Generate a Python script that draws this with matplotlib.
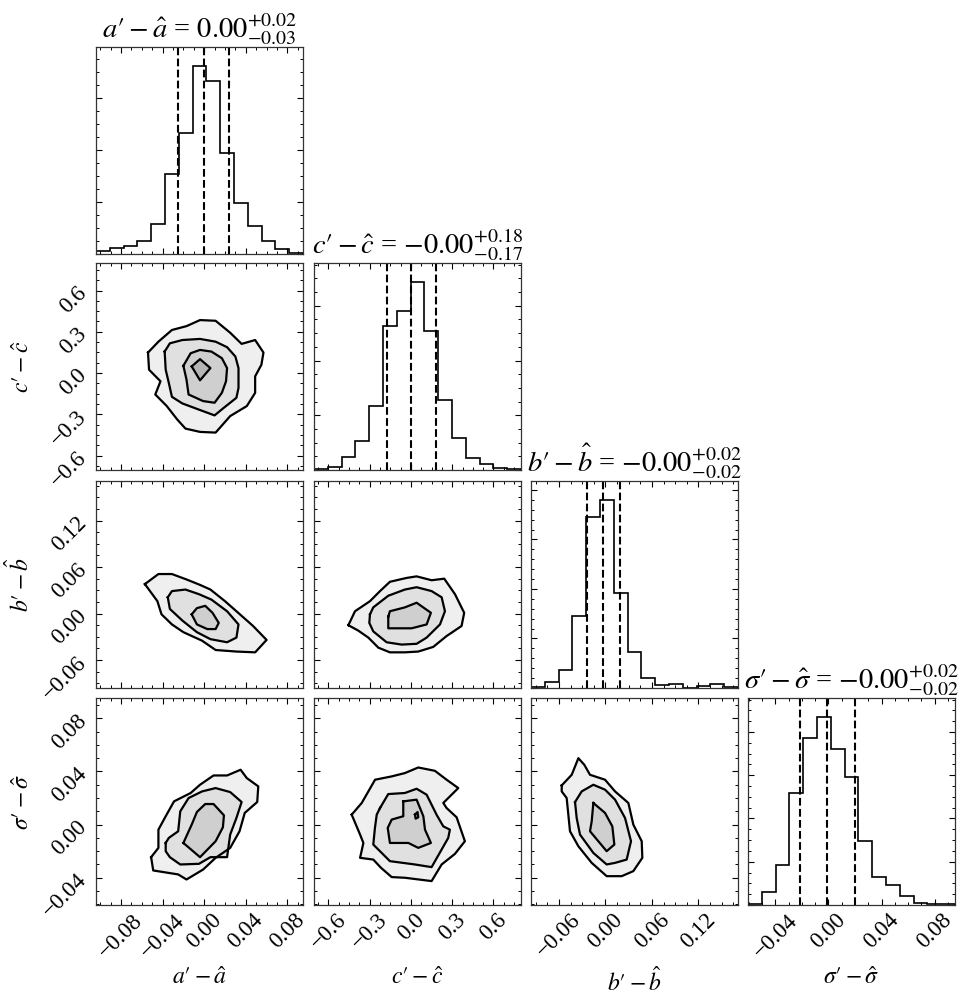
import numpy as np
import matplotlib
matplotlib.use("Agg")
import matplotlib.pyplot as plt
from matplotlib.ticker import MultipleLocator, AutoMinorLocator, MaxNLocator

plt.rcParams["font.family"] = ["Liberation Serif", "DejaVu Serif"]
plt.rcParams["mathtext.fontset"] = "stix"

# parameter names, titles and axis ranges
labels = [r"$a′ - \hat{a}$", r"$c′ - \hat{c}$", r"$b′ - \hat{b}$", r"$\sigma′ - \hat{\sigma}$"]
titles = [r"$a′ - \hat{a}$ = ${0.00}_{-0.03}^{+0.02}$",
          r"$c′ - \hat{c}$ = ${-0.00}_{-0.17}^{+0.18}$",
          r"$b′ - \hat{b}$ = ${-0.00}_{-0.02}^{+0.02}$",
          r"$\sigma′ - \hat{\sigma}$ = ${-0.00}_{-0.02}^{+0.02}$"]
ranges = [(-0.104, 0.095), (-0.705, 0.80), (-0.096, 0.171), (-0.0605, 0.0953)]
tick_steps = [0.04, 0.3, 0.06, 0.04]

# 1D histograms (15 bins over each range)
hist_a = [5, 9, 13, 20, 47, 123, 187, 290, 267, 156, 79, 43, 20, 7, 2]
hist_c = [2, 5, 19, 42, 94, 211, 233, 275, 203, 102, 47, 17, 9, 3, 1]
hist_b = [2, 12, 37, 146, 345, 380, 192, 73, 21, 7, 9, 1, 5, 9, 2]
hist_s = [2, 18, 56, 155, 231, 261, 217, 178, 89, 39, 28, 12, 3, 1, 2]
hists = [hist_a, hist_c, hist_b, hist_s]

# 16/50/84 % quantiles
quant_a = [-0.0255, 0.0003, 0.0235]
quant_c = [-0.172, 0.0, 0.179]
quant_b = [-0.024, -0.003, 0.019]
quant_s = [-0.021, -0.001, 0.020]
quants = [quant_a, quant_c, quant_b, quant_s]

# 2D contour lines (outer -> inner)
cont_c_a = [
    ([-0.054, -0.044, -0.031, -0.017, -0.004, 0.011, 0.025, 0.036, 0.049, 0.057, 0.055, 0.049,
      0.049, 0.041, 0.025, 0.011, -0.004, -0.018, -0.026, -0.036, -0.047, -0.042, -0.053],
     [0.149, 0.228, 0.313, 0.341, 0.385, 0.380, 0.293, 0.212, 0.240, 0.149, 0.060, -0.024,
      -0.144, -0.240, -0.313, -0.433, -0.428, -0.404, -0.337, -0.240, -0.156, -0.060, 0.024]),
    ([-0.038, -0.033, -0.021, -0.004, 0.011, 0.022, 0.030, 0.033, 0.033, 0.031, 0.019, 0.010,
      -0.004, -0.021, -0.031, -0.034, -0.037],
     [0.156, 0.216, 0.240, 0.248, 0.228, 0.188, 0.120, 0.036, -0.108, -0.180, -0.252, -0.308,
      -0.269, -0.221, -0.173, -0.072, 0.024]),
    ([-0.020, -0.013, -0.004, 0.007, 0.017, 0.022, 0.021, 0.017, 0.010, -0.001, -0.015, -0.017],
     [0.053, 0.144, 0.168, 0.156, 0.108, 0.036, -0.060, -0.144, -0.216, -0.204, -0.156, -0.048]),
    ([-0.012, -0.004, 0.006, -0.004], [0.048, 0.101, 0.036, -0.053]),
]
cont_b_a = [
    ([-0.057, -0.044, -0.031, -0.017, -0.004, 0.006, 0.020, 0.031, 0.047, 0.060, 0.049, 0.031,
      0.011, -0.002, -0.020, -0.031, -0.041, -0.045],
     [0.038, 0.051, 0.051, 0.044, 0.037, 0.031, 0.016, 0.003, -0.016, -0.034, -0.050, -0.049,
      -0.047, -0.035, -0.024, -0.014, -0.001, 0.016]),
    ([-0.035, -0.031, -0.018, -0.005, 0.007, 0.022, 0.033, 0.031, 0.022, 0.006, -0.007, -0.021, -0.033],
     [0.021, 0.029, 0.031, 0.025, 0.018, 0.003, -0.014, -0.031, -0.037, -0.033, -0.024, -0.009, 0.006]),
    ([-0.012, -0.007, 0.001, 0.008, 0.014, 0.011, 0.003, -0.007],
     [-0.001, 0.007, 0.010, 0.001, -0.012, -0.020, -0.020, -0.014]),
]
cont_b_c = [
    ([-0.455, -0.407, -0.298, -0.225, -0.153, -0.031, 0.041, 0.150, 0.242, 0.320, 0.387, 0.368,
      0.259, 0.162, 0.053, -0.044, -0.153, -0.237, -0.310, -0.383],
     [-0.015, 0.003, 0.016, 0.029, 0.041, 0.046, 0.048, 0.043, 0.045, 0.025, 0.001, -0.016,
      -0.029, -0.043, -0.049, -0.050, -0.050, -0.044, -0.031, -0.022]),
    ([-0.298, -0.274, -0.165, -0.044, 0.041, 0.150, 0.223, 0.247, 0.211, 0.114, 0.041, -0.068,
      -0.177, -0.274, -0.303],
     [-0.001, 0.008, 0.023, 0.031, 0.034, 0.029, 0.021, 0.003, -0.014, -0.031, -0.039, -0.040,
      -0.037, -0.023, -0.012]),
    ([-0.165, -0.153, -0.044, 0.041, 0.145, 0.114, 0.005, -0.165],
     [-0.004, 0.003, 0.008, 0.014, 0.001, -0.014, -0.019, -0.019]),
]
cont_s_a = [
    ([-0.051, -0.044, -0.044, -0.037, -0.029, -0.013, -0.004, 0.009, 0.022, 0.035, 0.041, 0.052,
      0.051, 0.039, 0.034, 0.025, 0.011, -0.001, -0.017, -0.025, -0.049],
     [-0.0245, -0.0175, -0.0038, 0.0063, 0.0175, 0.0238, 0.030, 0.037, 0.037, 0.0413, 0.035, 0.0288,
      0.017, 0.0088, -0.005, -0.0175, -0.025, -0.0338, -0.0413, -0.0375, -0.0345]),
    ([-0.037, -0.034, -0.025, -0.023, -0.015, -0.002, 0.011, 0.025, 0.036, 0.031, 0.025, 0.022,
      0.006, -0.005, -0.023, -0.033, -0.037],
     [-0.0138, -0.010, -0.005, 0.010, 0.020, 0.025, 0.0275, 0.0245, 0.017, 0.005, -0.0075, -0.0245,
      -0.0245, -0.0295, -0.030, -0.0245, -0.020]),
    ([-0.020, -0.012, -0.007, 0.001, 0.009, 0.019, 0.018, 0.011, -0.004],
     [-0.0138, 0.0, 0.0095, 0.0155, 0.0155, 0.007, -0.002, -0.0125, -0.0245]),
]
cont_s_c = [
    ([-0.431, -0.358, -0.261, -0.140, -0.044, 0.053, 0.174, 0.259, 0.344, 0.235, 0.259, 0.332,
      0.392, 0.320, 0.223, 0.150, -0.044, -0.140, -0.218, -0.274, -0.370, -0.346, -0.370],
     [0.0075, 0.0163, 0.0338, 0.0363, 0.0388, 0.043, 0.0405, 0.0338, 0.0275, 0.0163, 0.0125, 0.0055,
      -0.0125, -0.022, -0.030, -0.0425, -0.040, -0.0395, -0.0325, -0.0263, -0.025, -0.0138, -0.0075]),
    ([-0.225, -0.165, -0.044, 0.041, 0.114, 0.186, 0.235, 0.283, 0.271, 0.150, 0.029, -0.153,
      -0.274, -0.262, -0.249],
     [0.0125, 0.023, 0.0238, 0.027, 0.0225, 0.0075, -0.0013, -0.0038, -0.010, -0.032, -0.030, -0.0275,
      -0.015, -0.0025, 0.0075]),
    ([-0.056, 0.041, 0.090, 0.102, 0.145, 0.053, -0.019, -0.153, -0.169, -0.140, -0.056],
     [0.0175, 0.0188, 0.0063, -0.0038, -0.0138, -0.0175, -0.0138, -0.0138, -0.0025, 0.0038, 0.0063]),
    ([0.029, 0.048, 0.053, 0.034], [0.0075, 0.0095, 0.0055, 0.0045]),
]
cont_s_b = [
    ([-0.0564, -0.0435, -0.0349, -0.0272, -0.0199, -0.0005, 0.0124, 0.0296, 0.036, 0.0468, 0.0476,
      0.036, 0.021, 0.0016, -0.0177, -0.0349, -0.0457, -0.050, -0.0564],
     [0.0295, 0.0375, 0.050, 0.045, 0.0375, 0.0338, 0.025, 0.0163, 0.0, -0.0125, -0.025,
      -0.035, -0.0388, -0.0388, -0.0288, -0.0163, -0.005, 0.020, 0.025]),
    ([-0.0392, -0.0306, -0.0156, -0.0005, 0.0124, 0.0253, 0.033, 0.0274, 0.0124, 0.0016, -0.0156,
      -0.0328, -0.0371],
     [0.017, 0.025, 0.030, 0.0263, 0.0188, 0.005, -0.0125, -0.0263, -0.0288, -0.030, -0.0213,
      -0.0075, 0.005]),
    ([-0.0156, -0.0005, 0.0089, 0.0115, 0.0016, -0.0199, -0.0177],
     [0.0163, 0.0088, -0.0013, -0.015, -0.020, -0.005, 0.0025]),
]
contours = {(1, 0): cont_c_a, (2, 0): cont_b_a, (2, 1): cont_b_c,
            (3, 0): cont_s_a, (3, 1): cont_s_c, (3, 2): cont_s_b}

fills = ["#efefef", "#e0e0e0", "#cfcfcf", "#b5b5b5"]

# layout in pixels of the 969x996 canvas
W, H = 969.0, 996.0
col_left = [96, 314, 531, 748]
row_top = [47, 263, 481, 698]
size = 207

fig = plt.figure(figsize=(9.69, 9.96), dpi=100)
K = len(labels)

for i in range(K):
    for j in range(i + 1):
        ax = fig.add_axes([col_left[j] / W, 1 - (row_top[i] + size) / H, size / W, size / H])
        lo, hi = ranges[j]
        if i == j:
            h = np.array(hists[j], dtype=float)
            edges = np.linspace(lo, hi, len(h) + 1)
            ax.stairs(h, edges, color="k", lw=1.2)
            for q in quants[j]:
                ax.axvline(q, color="k", ls="--", lw=1.5)
            ax.set_ylim(0, 1.1 * h.max())
            ax.yaxis.set_major_locator(MaxNLocator(5))
            ax.set_yticklabels([])
            ax.set_title(titles[j], fontsize=20.5, pad=4)
        else:
            for k, (xs, ys) in enumerate(contours[(i, j)]):
                xs = list(xs) + [xs[0]]
                ys = list(ys) + [ys[0]]
                ax.fill(xs, ys, color=fills[k], lw=0, zorder=1)
            for xs, ys in contours[(i, j)]:
                xs = list(xs) + [xs[0]]
                ys = list(ys) + [ys[0]]
                ax.plot(xs, ys, color="k", lw=1.6, zorder=3)
            ylo, yhi = ranges[i]
            ax.set_ylim(ylo, yhi)
            ax.yaxis.set_major_locator(MultipleLocator(tick_steps[i]))
            if j == 0:
                ax.set_ylabel(labels[i], fontsize=17)
                ax.yaxis.set_label_coords(-0.3, 0.5)
                ax.tick_params(axis="y", labelrotation=45)
            else:
                ax.set_yticklabels([])
        ax.set_xlim(lo, hi)
        ax.xaxis.set_major_locator(MultipleLocator(tick_steps[j]))
        ax.xaxis.set_minor_locator(AutoMinorLocator())
        ax.yaxis.set_minor_locator(AutoMinorLocator())
        if i == K - 1:
            ax.set_xlabel(labels[j], fontsize=17)
            ax.xaxis.set_label_coords(0.5, -0.3)
            ax.tick_params(axis="x", labelrotation=45)
        else:
            ax.set_xticklabels([])
        ax.tick_params(which="both", direction="in", top=True, right=True, labelsize=16.5)
        ax.tick_params(which="major", length=4, width=0.8)
        ax.tick_params(which="minor", length=2, width=0.7)
        for s in ax.spines.values():
            s.set_linewidth(0.9)
            s.set_color("#333333")

fig.savefig("out.png", dpi=100)
